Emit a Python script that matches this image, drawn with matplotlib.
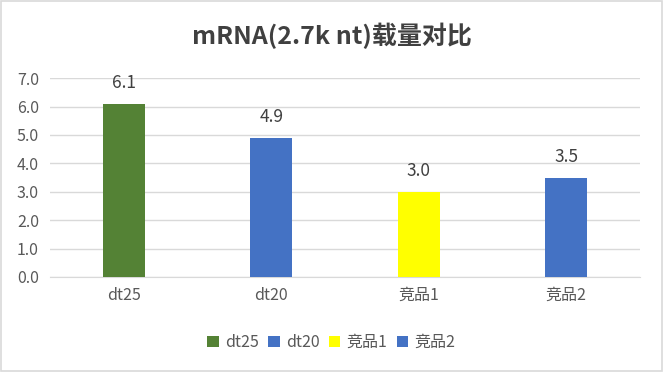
import matplotlib.pyplot as plt
from matplotlib.patches import Patch, Rectangle

plt.rcParams['font.family'] = ['Noto Sans CJK SC', 'DejaVu Sans']

categories = ['dt25', 'dt20', '竞品1', '竞品2']
values = [6.1, 4.9, 3.0, 3.5]
colors = ['#548235', '#4472C4', '#FFFF00', '#4472C4']
yticks = [0.0, 1.0, 2.0, 3.0, 4.0, 5.0, 6.0, 7.0]

fig = plt.figure(figsize=(6.63, 3.72), dpi=100)
ax = fig.add_axes([0.0754, 0.2554, 0.8896, 0.5346])

x = range(len(categories))
ax.bar(x, values, width=0.285, color=colors, zorder=3)
for i, v in enumerate(values):
    ax.text(i, v + 0.4, f'{v:.1f}', ha='center', va='bottom', fontsize=12.5, color='#404040')

ax.set_xlim(-0.5, len(categories) - 0.5)
ax.set_ylim(0, 7)
ax.set_yticks(yticks)
ax.set_yticklabels([f'{t:.1f}' for t in yticks])
ax.set_xticks(list(x))
ax.set_xticklabels(categories)
ax.tick_params(axis='both', length=0, labelsize=11.5, labelcolor='#595959')
ax.tick_params(axis='x', pad=7)
ax.tick_params(axis='y', pad=8)
ax.yaxis.grid(True, color='#D9D9D9', linewidth=1, zorder=0)
for s in ['top', 'right', 'left']:
    ax.spines[s].set_visible(False)
ax.spines['bottom'].set_color('#D9D9D9')

fig.suptitle('mRNA(2.7k nt)载量对比', x=0.5, y=0.94, fontsize=18, fontweight='bold', color='#404040')

handles = [Patch(facecolor=c, label=l) for c, l in zip(colors, categories)]
fig.legend(handles=handles, loc='center', bbox_to_anchor=(0.5, 0.08), ncol=4, frameon=False,
           fontsize=11.5, labelcolor='#595959', handlelength=0.7, handleheight=0.7,
           handletextpad=0.4, columnspacing=0.6)

fig.patches.append(Rectangle((0.001, 0.002), 0.997, 0.995, transform=fig.transFigure,
                             fill=False, edgecolor='#D9D9D9', linewidth=1.2))

fig.savefig('out.png', dpi=100)
